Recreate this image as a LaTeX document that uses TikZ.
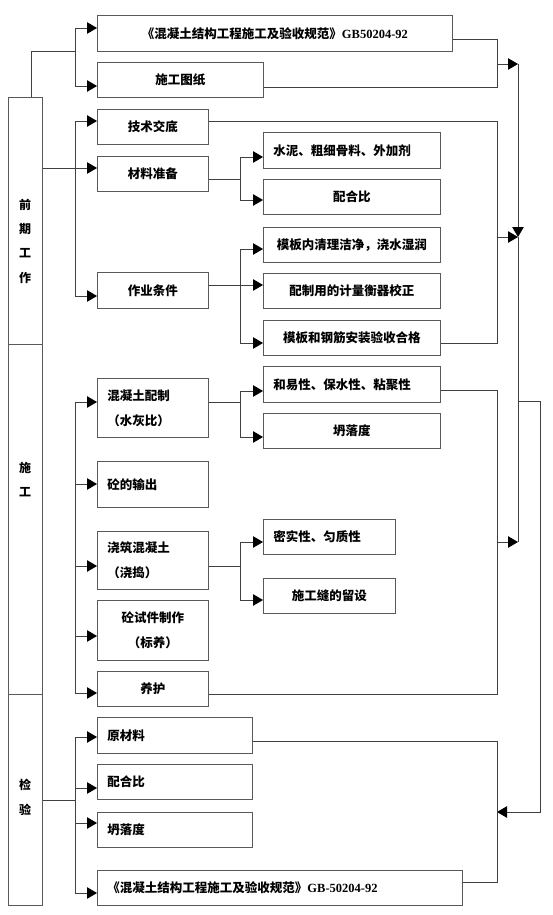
\documentclass[tikz,border=0pt]{standalone}
\usepackage{fontspec}
\setmainfont{Noto Sans CJK SC}
\newfontfamily\latinfont{Liberation Serif}
\usetikzlibrary{arrows.meta}
\begin{document}
\begin{tikzpicture}[x=1pt,y=-1pt,
  box/.style={draw=black!65, line width=0.9pt, inner xsep=0pt, inner ysep=0pt, align=center, anchor=north west,
    font=\fontsize{12.5}{25}\selectfont\bfseries},
  lbox/.style={box, align=left, inner xsep=10pt, text width=#1},
  col/.style={draw=black!65, line width=0.9pt, anchor=north west, inner sep=0pt, minimum width=34pt},
  lbl/.style={align=center, inner sep=0pt, font=\fontsize{12}{#1}\selectfont\bfseries},
  ln/.style={draw=black!75, line width=0.8pt},
  arr/.style={draw=black!75, line width=0.8pt, -{Triangle[length=10pt,width=11.5pt,color=black]}},
]
\useasboundingbox (0,0) rectangle (553,915);

% left column
\node[col, minimum height=247pt] (qq) at (8,97) {};
\node[col, minimum height=350pt] (sg) at (8,344) {};
\node[col, minimum height=211pt] (jy) at (8,694) {};
\node[lbl=24.3pt] (qql) at (25,241) {前\\期\\工\\作};
\node[lbl=24pt] (sgl) at (25,480) {施\\工};
\node[lbl=25pt] (jyl) at (25,797) {检\\验};

% boxes
\node[box, minimum width=355pt, minimum height=36pt] (gb) at (97,15) {《混凝土结构工程施工及验收规范》{\latinfont\bfseries GB50204-92}};
\node[box, minimum width=166pt, minimum height=35pt] (tz) at (97,62) {施工图纸};
\node[box, minimum width=111pt, minimum height=35pt] (jsjd) at (97,109) {技术交底};
\node[box, minimum width=111pt, minimum height=35pt] (clzb) at (97,156) {材料准备};
\node[box, minimum width=111pt, minimum height=36pt] (zytj) at (97,272) {作业条件};
\node[lbox=157pt, minimum height=36pt] (sn) at (263,132) {水泥、粗细骨料、外加剂};
\node[box, minimum width=177pt, minimum height=35pt] (phb1) at (263,179) {配合比};
\node[box, minimum width=177pt, minimum height=35pt] (mbn) at (263,227) {模板内清理洁净，浇水湿润};
\node[box, minimum width=177pt, minimum height=35pt] (pzy) at (263,273) {配制用的计量衡器校正};
\node[box, minimum width=177pt, minimum height=35pt] (mbgj) at (263,320) {模板和钢筋安装验收合格};

\node[lbox=91pt, minimum height=59pt] (pz) at (97,378) {混凝土配制\\（水灰比）};
\node[lbox=157pt, minimum height=36pt] (hyx) at (263,366) {和易性、保水性、粘聚性};
\node[box, minimum width=177pt, minimum height=35pt] (tld1) at (263,413) {坍落度};
\node[lbox=91pt, minimum height=46pt] (sc) at (97,461) {砼的输出\\[-4pt]};
\node[lbox=91pt, minimum height=58pt] (jz) at (97,531) {浇筑混凝土\\（浇捣）};
\node[lbox=112pt, minimum height=35pt] (msx) at (263,519) {密实性、匀质性};
\node[box, minimum width=132pt, minimum height=35pt] (sgf) at (263,578) {施工缝的留设};
\node[box, minimum width=111pt, minimum height=60pt] (sj) at (97,600) {砼试件制作\\（标养）};
\node[box, minimum width=111pt, minimum height=35pt] (yh) at (97,671) {养护};

\node[lbox=135pt, minimum height=36pt] (ycl) at (97,717) {原材料};
\node[lbox=135pt, minimum height=35pt] (phb2) at (97,764) {配合比};
\node[lbox=135pt, minimum height=35pt] (tld2) at (97,812) {坍落度};
\node[lbox=345pt, minimum height=35pt] (gb2) at (97,870) {《混凝土结构工程施工及验收规范》{\latinfont\bfseries GB-50204-92}};

% ---- left connectors: group 1
\coordinate (q0) at (31,97);
\coordinate (a1) at (75,51);
\coordinate (a1t) at (75,28);
\coordinate (a1b) at (75,86);
\draw[ln] (q0) |- (a1);
\draw[ln] (a1t) -- (a1b);
\draw[arr] (a1t) -- (gb.west |- a1t);
\draw[arr] (a1b) -- (tz.west |- a1b);

\coordinate (a2t) at (75,121);
\coordinate (a2m) at (75,168);
\coordinate (a2b) at (75,296);
\draw[ln] (a2t) -- (a2b);
\draw[arr] (qq.east |- a2m) -- (clzb.west |- a2m);
\draw[arr] (a2t) -- (jsjd.west |- a2t);
\draw[arr] (a2b) -- (zytj.west |- a2b);

% materials branch
\coordinate (m0) at (240,179);
\coordinate (mt) at (240,157);
\coordinate (mb) at (240,200);
\draw[ln] (clzb.east |- m0) -- (m0);
\draw[ln] (mt) -- (mb);
\draw[arr] (mt) -- (sn.west |- mt);
\draw[arr] (mb) -- (phb1.west |- mb);

% conditions branch
\coordinate (c0) at (240,285);
\coordinate (ct) at (240,249);
\coordinate (cb) at (240,343);
\draw[ln] (ct) -- (cb);
\draw[arr] (zytj.east |- c0) -- (pzy.west |- c0);
\draw[arr] (ct) -- (mbn.west |- ct);
\draw[arr] (cb) -- (mbgj.west |- cb);

% ---- group 2
\coordinate (b1) at (75,402);
\coordinate (b2) at (75,484);
\coordinate (b3) at (75,566);
\coordinate (b4) at (75,636);
\coordinate (b5) at (75,693);
\draw[ln] (b1) -- (b5);
\draw[arr] (b1) -- (pz.west |- b1);
\draw[arr] (b2) -- (sc.west |- b2);
\draw[arr] (b3) -- (jz.west |- b3);
\draw[arr] (b4) -- (sj.west |- b4);
\draw[arr] (b5) -- (yh.west |- b5);

\coordinate (p0) at (240,402);
\coordinate (pt) at (240,391);
\coordinate (pb) at (240,437);
\draw[ln] (pz.east |- p0) -- (p0);
\draw[ln] (pt) -- (pb);
\draw[arr] (pt) -- (hyx.west |- pt);
\draw[arr] (pb) -- (tld1.west |- pb);

\coordinate (j0) at (240,566);
\coordinate (jt) at (240,542);
\coordinate (jb) at (240,600);
\draw[ln] (jz.east |- j0) -- (j0);
\draw[ln] (jt) -- (jb);
\draw[arr] (jt) -- (msx.west |- jt);
\draw[arr] (jb) -- (sgf.west |- jb);

% ---- group 3
\coordinate (k0) at (75,800);
\coordinate (kt) at (75,737);
\coordinate (kb) at (75,893);
\coordinate (k2) at (75,788);
\coordinate (k3) at (75,823);
\draw[ln] (jy.east |- k0) -- (k0);
\draw[ln] (kt) -- (kb);
\draw[arr] (kt) -- (ycl.west |- kt);
\draw[arr] (k2) -- (phb2.west |- k2);
\draw[arr] (k3) -- (tld2.west |- k3);
\draw[arr] (kb) -- (gb2.west |- kb);

% ---- right side
\coordinate (r1t) at (497,39);
\coordinate (r1b) at (497,87);
\coordinate (r1m) at (497,64);
\coordinate (v1) at (518,64);
\draw[ln] (gb.east |- r1t) -- (r1t) -- (r1b) -- (tz.east |- r1b);
\draw[arr] (r1m) -- (v1);

\coordinate (r2t) at (497,121);
\coordinate (r2b) at (497,343);
\coordinate (r2m) at (497,237);
\coordinate (v2) at (518,237);
\draw[ln] (jsjd.east |- r2t) -- (r2t) -- (r2b) -- (mbgj.east |- r2b);
\draw[arr] (r2m) -- (v2);
\draw[arr] (v1) -- (v2);

\coordinate (r3t) at (497,390);
\coordinate (r3b) at (497,694);
\coordinate (r3m) at (497,542);
\coordinate (v3) at (518,542);
\draw[ln] (hyx.east |- r3t) -- (r3t) -- (r3b) -- (yh.east |- r3b);
\draw[arr] (r3m) -- (v3);
\draw[ln] (v2) -- (v3);

\coordinate (v4) at (518,401);
\coordinate (w1) at (540,401);
\coordinate (w2) at (540,812);
\coordinate (r4m) at (497,812);
\draw[arr] (v4) -- (w1) -- (w2) -- (r4m);

\coordinate (r5t) at (497,741);
\coordinate (r5b) at (497,882);
\draw[ln] (ycl.east |- r5t) -- (r5t) -- (r5b) -- (gb2.east |- r5b);
\end{tikzpicture}
\end{document}
